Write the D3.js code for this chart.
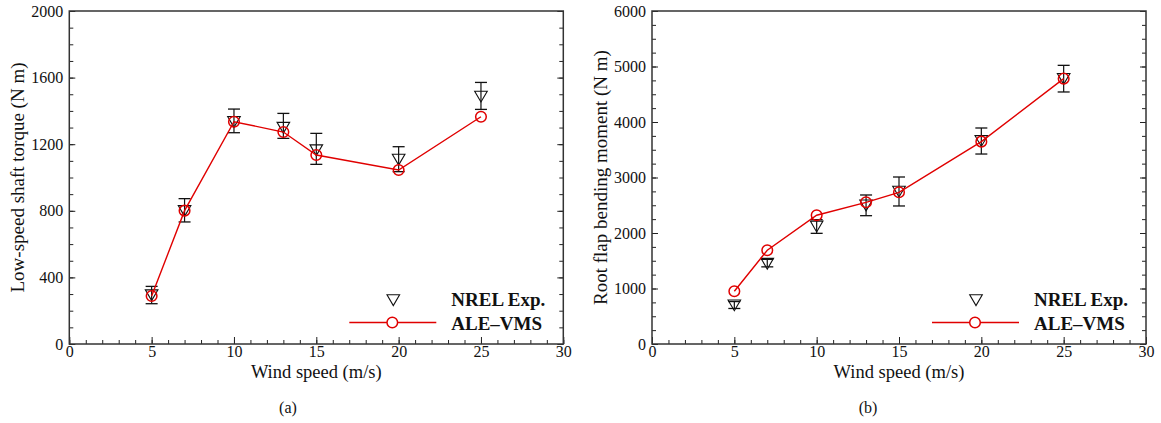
<!DOCTYPE html>
<html>
<head>
<meta charset="utf-8">
<script src="https://cdn.jsdelivr.net/npm/d3@7"></script>
<style>
  html, body { margin: 0; padding: 0; background: #fff; }
  svg { display: block; }
  text { font-family: "Liberation Serif", "Times New Roman", serif; fill: #111; }
</style>
</head>
<body>
<svg id="fig" width="1161" height="423"></svg>
<script>
// Wind speeds (m/s)
const windSpeed = [5, 7, 10, 13, 15, 20, 25];

// (a) Low-speed shaft torque (N m)
const torqueExp   = [294, 800, 1335, 1300, 1165, 1108, 1487];
const torqueExpLo = [242, 733, 1269, 1235, 1079, 1035, 1409];
const torqueExpHi = [346, 873, 1411, 1385, 1265, 1185, 1571];
const torqueSim   = [288, 801, 1335, 1273, 1135, 1045, 1365];

// (b) Root flap bending moment (N m)
const momentExp   = [700, 1450, 2120, 2500, 2750, 3660, 4780];
const momentExpLo = [640, 1390, 1994, 2312, 2487, 3423, 4541];
const momentExpHi = [765, 1525, 2240, 2685, 3009, 3892, 5021];
const momentSim   = [950, 1690, 2320, 2553, 2733, 3646, 4781];

// Axis ticks
const xMajor = [0, 5, 10, 15, 20, 25, 30];
const xMinor = d3.range(0, 31, 1);
const torqueMajor = [0, 400, 800, 1200, 1600, 2000];
const torqueMinor = d3.range(0, 2001, 100);
const momentMajor = [0, 1000, 2000, 3000, 4000, 5000, 6000];
const momentMinor = d3.range(0, 6001, 250);

const legendLabels = ["NREL Exp.", "ALE\u2013VMS"];
const RED = "#e00000";

const svg = d3.select("#fig");
svg.append("rect").attr("width", 1161).attr("height", 423).attr("fill", "#fff");

function panel(opt) {
  const L = opt.left, R = opt.left + 494, T = 11, B = 344;
  const x = d3.scaleLinear().domain([0, 30]).range([L, R]);
  const y = d3.scaleLinear().domain([0, opt.yMax]).range([B, T]);
  const g = svg.append("g");

  // inward minor ticks
  const minorStyle = sel => { sel.select(".domain").remove(); sel.selectAll("line").attr("stroke", "#222").attr("stroke-width", 1); };
  g.append("g").attr("transform", `translate(0,${B})`)
    .call(d3.axisBottom(x).tickValues(xMinor).tickSize(-4).tickFormat(""))
    .call(minorStyle);
  g.append("g").attr("transform", `translate(${L},0)`)
    .call(d3.axisLeft(y).tickValues(opt.yMinor).tickSize(-4).tickFormat(""))
    .call(minorStyle);
  g.append("g").attr("transform", `translate(${R},0)`)
    .call(d3.axisRight(y).tickValues(opt.yMinor).tickSize(-4).tickFormat(""))
    .call(minorStyle);

  // major ticks with labels
  const majorStyle = sel => {
    sel.select(".domain").remove();
    sel.selectAll("line").attr("stroke", "#222").attr("stroke-width", 1);
    sel.selectAll("text").attr("font-size", 16).attr("fill", "#111")
      .attr("font-family", '"Liberation Serif", serif');
  };
  g.append("g").attr("transform", `translate(0,${B})`)
    .call(d3.axisBottom(x).tickValues(xMajor).tickSize(-7).tickPadding(2).tickFormat(d3.format("d")))
    .call(majorStyle);
  g.append("g").attr("transform", `translate(${L},0)`)
    .call(d3.axisLeft(y).tickValues(opt.yMajor).tickSize(-6).tickPadding(6).tickFormat(d3.format("d")))
    .call(majorStyle);
  g.append("g").attr("transform", `translate(${R},0)`)
    .call(d3.axisRight(y).tickValues(opt.yMajor).tickSize(-6).tickFormat(""))
    .call(majorStyle);

  // frame
  g.append("rect").attr("x", L).attr("y", T).attr("width", R - L).attr("height", B - T)
    .attr("fill", "none").attr("stroke", "#333").attr("stroke-width", 1.5);

  // axis titles
  g.append("text").attr("x", (L + R) / 2).attr("y", 378).attr("text-anchor", "middle")
    .attr("font-size", 18.5).text("Wind speed (m/s)");
  g.append("text").attr("transform", `translate(${L - 45},${(T + B) / 2}) rotate(-90)`)
    .attr("text-anchor", "middle").attr("font-size", 19).text(opt.yTitle);
  g.append("text").attr("x", opt.captionX).attr("y", 413).attr("text-anchor", "middle")
    .attr("font-size", 16).text(opt.caption);

  // experimental error bars
  const cap = 6;
  windSpeed.forEach((w, i) => {
    const cx = x(w);
    g.append("line").attr("x1", cx).attr("x2", cx).attr("y1", y(opt.lo[i])).attr("y2", y(opt.hi[i]))
      .attr("stroke", "#111").attr("stroke-width", 1.2);
    [opt.lo[i], opt.hi[i]].forEach(v => {
      g.append("line").attr("x1", cx - cap).attr("x2", cx + cap).attr("y1", y(v)).attr("y2", y(v))
        .attr("stroke", "#111").attr("stroke-width", 1.3);
    });
  });

  // downward triangle marker
  const tri = (cx, cy) => `M${cx - 6.3},${cy - 5.2}L${cx + 6.3},${cy - 5.2}L${cx},${cy + 5.6}Z`;
  windSpeed.forEach((w, i) => {
    g.append("path").attr("d", tri(x(w), y(opt.exp[i])))
      .attr("fill", "none").attr("stroke", "#111").attr("stroke-width", 1.1);
  });

  // simulation line + circles
  const line = d3.line().x((d, i) => x(windSpeed[i])).y(d => y(d));
  g.append("path").datum(opt.sim).attr("d", line)
    .attr("fill", "none").attr("stroke", RED).attr("stroke-width", 1.4);
  g.selectAll(null).data(opt.sim).join("circle")
    .attr("cx", (d, i) => x(windSpeed[i])).attr("cy", d => y(d)).attr("r", 5.3)
    .attr("fill", "none").attr("stroke", RED).attr("stroke-width", 1.5);

  // legend
  const lx = L + 324;
  g.append("path").attr("d", tri(lx, 300)).attr("fill", "none").attr("stroke", "#111").attr("stroke-width", 1.1);
  g.append("line").attr("x1", L + 280).attr("x2", L + 367).attr("y1", 322.5).attr("y2", 322.5)
    .attr("stroke", RED).attr("stroke-width", 1.4);
  g.append("circle").attr("cx", lx - 1).attr("cy", 322.5).attr("r", 5.3)
    .attr("fill", "#fff").attr("stroke", RED).attr("stroke-width", 1.5);
  g.append("text").attr("x", L + 382).attr("y", 306).attr("font-size", 19).attr("font-weight", "bold")
    .text(legendLabels[0]);
  g.append("text").attr("x", L + 382).attr("y", 329.5).attr("font-size", 19).attr("font-weight", "bold")
    .text(legendLabels[1]);
}

panel({
  left: 69.3, yMax: 2000, yMajor: torqueMajor, yMinor: torqueMinor,
  exp: torqueExp, lo: torqueExpLo, hi: torqueExpHi, sim: torqueSim,
  yTitle: "Low-speed shaft torque (N m)", caption: "(a)", captionX: 288
});
panel({
  left: 652, yMax: 6000, yMajor: momentMajor, yMinor: momentMinor,
  exp: momentExp, lo: momentExpLo, hi: momentExpHi, sim: momentSim,
  yTitle: "Root flap bending moment (N m)", caption: "(b)", captionX: 868
});
</script>
</body>
</html>
